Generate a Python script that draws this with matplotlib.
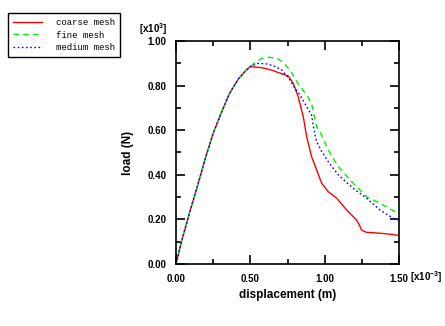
import matplotlib
matplotlib.use("Agg")
import matplotlib.pyplot as plt
from matplotlib.ticker import MultipleLocator, FormatStrFormatter

plt.rcParams['font.family'] = ['Liberation Sans', 'DejaVu Sans']
plt.rcParams['mathtext.fontset'] = 'custom'
plt.rcParams['mathtext.bf'] = 'Liberation Sans:bold'
plt.rcParams['mathtext.rm'] = 'Liberation Sans:bold'
plt.rcParams['mathtext.default'] = 'bf'

# 位移 (x10^-3 m) / 载荷 (x10^3 N)
coarse_x = [0.0, 0.04, 0.09, 0.14, 0.2, 0.25, 0.3, 0.36, 0.42, 0.47, 0.5, 0.58, 0.65,
            0.702, 0.755, 0.789, 0.822, 0.856, 0.879, 0.912, 0.946, 0.98, 1.024,
            1.081, 1.148, 1.215, 1.233, 1.249, 1.282, 1.372, 1.45, 1.49]
coarse_y = [0.0, 0.108, 0.227, 0.34, 0.48, 0.586, 0.67, 0.765, 0.83, 0.868, 0.885, 0.88, 0.868,
            0.855, 0.843, 0.81, 0.75, 0.661, 0.571, 0.481, 0.422, 0.362, 0.324,
            0.295, 0.242, 0.197, 0.175, 0.152, 0.142, 0.138, 0.133, 0.129]

fine_x = [0.0, 0.04, 0.09, 0.14, 0.2, 0.25, 0.3, 0.36, 0.42, 0.47, 0.52, 0.576, 0.632,
          0.685, 0.729, 0.774, 0.812, 0.845, 0.879, 0.912, 0.946, 0.98, 1.024, 1.092,
          1.192, 1.282, 1.372, 1.473, 1.49]
fine_y = [0.0, 0.108, 0.227, 0.34, 0.48, 0.586, 0.67, 0.765, 0.83, 0.868, 0.897, 0.922, 0.927,
          0.92, 0.9, 0.862, 0.818, 0.788, 0.758, 0.72, 0.616, 0.578, 0.511, 0.436,
          0.362, 0.302, 0.272, 0.235, 0.228]

medium_x = [0.0, 0.04, 0.09, 0.14, 0.2, 0.25, 0.3, 0.36, 0.42, 0.47, 0.5, 0.554, 0.61,
            0.66, 0.711, 0.767, 0.8, 0.834, 0.879, 0.912, 0.924, 0.946, 0.98, 1.024,
            1.092, 1.192, 1.282, 1.372, 1.462, 1.49]
medium_y = [0.0, 0.108, 0.227, 0.34, 0.48, 0.586, 0.67, 0.765, 0.83, 0.868, 0.885, 0.9, 0.897,
            0.888, 0.87, 0.825, 0.788, 0.758, 0.705, 0.668, 0.616, 0.548, 0.504, 0.459,
            0.399, 0.339, 0.295, 0.242, 0.205, 0.198]

labels = ['coarse mesh', 'fine mesh', 'medium mesh']

fig = plt.figure(figsize=(4.45, 3.26), dpi=100)
ax = fig.add_axes([176/445, 1-264/326, 223/445, 223/326])

l1, = ax.plot(coarse_x, coarse_y, color='red', lw=1.0, ls='-')
l2, = ax.plot(fine_x, fine_y, color='#00ee00', lw=1.0, ls=(0, (4, 3)))
l3, = ax.plot(medium_x, medium_y, color='blue', lw=1.0, ls=(0, (1.2, 1.8)))

ax.set_xlim(0, 1.5)
ax.set_ylim(0, 1.0)
ax.xaxis.set_major_locator(MultipleLocator(0.5))
ax.xaxis.set_minor_locator(MultipleLocator(0.25))
ax.yaxis.set_major_locator(MultipleLocator(0.2))
ax.yaxis.set_minor_locator(MultipleLocator(0.1))
ax.xaxis.set_major_formatter(FormatStrFormatter('%.2f'))
ax.yaxis.set_major_formatter(FormatStrFormatter('%.2f'))
ax.tick_params(which='both', direction='in', top=True, right=True, width=1.2)
ax.tick_params(which='major', length=6.5, labelsize=7, pad=7)
ax.tick_params(which='minor', length=3.5)
for lab in ax.get_xticklabels() + ax.get_yticklabels():
    lab.set_fontweight('bold')
for sp in ax.spines.values():
    sp.set_linewidth(1.2)

ax.set_xlabel('displacement (m)', fontsize=8.5, fontweight='bold', labelpad=4)
ax.set_ylabel('load (N)', fontsize=8.5, fontweight='bold')
ax.yaxis.set_label_coords((134-176)/223, 0.5)

#坐标倍数标记
fig.text(153/445, 1-29/326, r'[x10$^{3}$]', fontsize=7, fontweight='bold',
         ha='center', va='center')
fig.text(426/445, 1-277/326, r'[x10$^{-3}$]', fontsize=7, fontweight='bold',
         ha='center', va='center')

#图例
leg = fig.legend([l1, l2, l3], labels, loc='upper left',
                 bbox_to_anchor=(8/445, 1-13/326), borderaxespad=0,
                 prop={'family': 'Liberation Mono', 'size': 6.5},
                 fancybox=False, edgecolor='black', framealpha=1,
                 handlelength=3.2, handletextpad=1.5, labelspacing=0.35,
                 borderpad=0.6, handleheight=0.7)
leg.get_frame().set_linewidth(1.0)

plt.savefig('out.png', dpi=100)
